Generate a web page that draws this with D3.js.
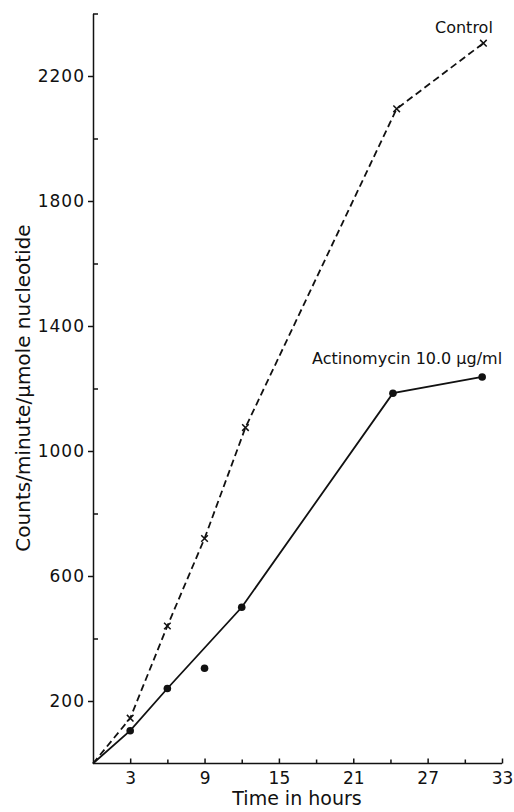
<!DOCTYPE html>
<html>
<head>
<meta charset="utf-8">
<script src="https://cdn.jsdelivr.net/npm/d3@7"></script>
<style>
  body { margin: 0; background: #fff; }
  svg text { font-family: "DejaVu Sans", sans-serif; fill: #111; }
  .axis path, .axis line { stroke: #111; stroke-width: 1.5px; }
</style>
</head>
<body>
<svg id="chart" width="514" height="812"></svg>
<script>
// data
var controlTime = [0, 3, 6, 9, 12.3, 24.5, 31.5];
var controlCounts = [0, 145, 440, 720, 1075, 2095, 2305];

var actinTime = [0, 3, 6, 9, 12, 24.2, 31.4];
var actinCounts = [0, 105, 240, 305, 500, 1185, 1237];
// the 9 h point sits off the drawn curve
var actinOnCurve = [true, true, true, false, true, true, true];

var xMajorTicks = [3, 9, 15, 21, 27, 33];
var xMinorTicks = [6, 12, 18, 24, 30];
var yMajorTicks = [200, 600, 1000, 1400, 1800, 2200];
var yMinorTicks = [400, 800, 1200, 1600, 2000, 2400];

var svg = d3.select("#chart");

var xScale = d3.scaleLinear().domain([0, 33]).range([93, 502]);
var yScale = d3.scaleLinear().domain([0, 2400]).range([763.5, 13.5]);

// x axis
var xAxis = svg.append("g")
    .attr("class", "axis")
    .attr("transform", "translate(0," + yScale(0) + ")")
    .call(d3.axisBottom(xScale).tickValues(xMajorTicks).tickFormat(d3.format("d"))
        .tickSizeInner(-5).tickSizeOuter(0).tickPadding(10));
xAxis.selectAll("text").attr("font-size", 17).attr("dy", "0.6em");
xAxis.select(".domain").attr("d", "M" + xScale(0) + ",0H" + xScale(33));

svg.append("g")
    .attr("class", "axis")
    .attr("transform", "translate(0," + yScale(0) + ")")
    .call(d3.axisBottom(xScale).tickValues(xMinorTicks).tickSizeInner(-4).tickSizeOuter(0).tickFormat(""))
    .select(".domain").remove();

// y axis
var yAxis = svg.append("g")
    .attr("class", "axis")
    .attr("transform", "translate(" + xScale(0) + ",0)")
    .call(d3.axisLeft(yScale).tickValues(yMajorTicks).tickFormat(d3.format("d"))
        .tickSizeInner(5).tickSizeOuter(0).tickPadding(3));
yAxis.selectAll("text").attr("font-size", 17).attr("letter-spacing", 1);

svg.append("g")
    .attr("class", "axis")
    .attr("transform", "translate(" + xScale(0) + ",0)")
    .call(d3.axisLeft(yScale).tickValues(yMinorTicks).tickSizeInner(-5).tickSizeOuter(0).tickFormat(""))
    .select(".domain").remove();

// axis titles
svg.append("text")
    .attr("x", 297)
    .attr("y", 805)
    .attr("text-anchor", "middle")
    .attr("font-size", 19)
    .text("Time in hours");

svg.append("text")
    .attr("transform", "translate(30,388) rotate(-90)")
    .attr("text-anchor", "middle")
    .attr("font-size", 20)
    .text("Counts/minute/\u03bcmole nucleotide");

var control = controlTime.map(function(t, i) { return { t: t, v: controlCounts[i] }; });
var actin = actinTime.map(function(t, i) { return { t: t, v: actinCounts[i], on: actinOnCurve[i] }; });

var line = d3.line()
    .x(d => xScale(d.t))
    .y(d => yScale(d.v));

// control series (dashed, x markers)
svg.append("path")
    .datum(control)
    .attr("d", line)
    .attr("fill", "none")
    .attr("stroke", "#111")
    .attr("stroke-width", 1.8)
    .attr("stroke-dasharray", "7,4");

svg.selectAll(".xmark")
    .data(control.slice(1))
    .enter()
    .append("path")
    .attr("class", "xmark")
    .attr("transform", d => "translate(" + xScale(d.t) + "," + yScale(d.v) + ")")
    .attr("d", d3.symbol(d3.symbolX, 30))
    .attr("fill", "none")
    .attr("stroke", "#111")
    .attr("stroke-width", 1.5);

// actinomycin series (solid, dots)
svg.append("path")
    .datum(actin.filter(d => d.on))
    .attr("d", line)
    .attr("fill", "none")
    .attr("stroke", "#111")
    .attr("stroke-width", 1.8);

svg.selectAll(".dot")
    .data(actin.slice(1))
    .enter()
    .append("circle")
    .attr("class", "dot")
    .attr("cx", d => xScale(d.t))
    .attr("cy", d => yScale(d.v))
    .attr("r", 3.8)
    .attr("fill", "#111");

// series labels
svg.append("text")
    .attr("x", 435)
    .attr("y", 33)
    .attr("font-size", 16)
    .text("Control");

svg.append("text")
    .attr("x", 312)
    .attr("y", 364)
    .attr("font-size", 16)
    .text("Actinomycin 10.0 \u03bcg/ml");
</script>
</body>
</html>
